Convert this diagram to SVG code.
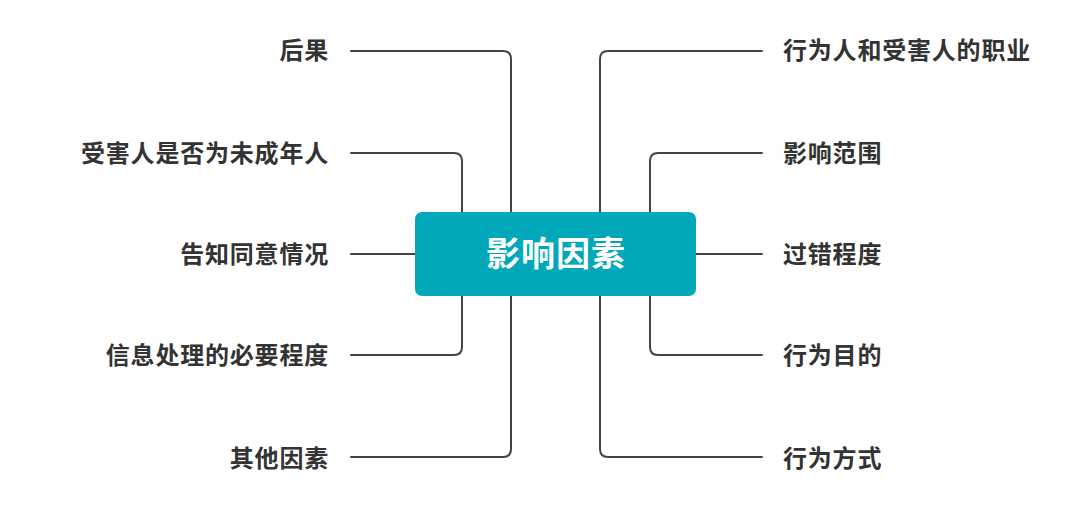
<svg xmlns="http://www.w3.org/2000/svg" width="1080" height="508" viewBox="0 0 1080 508">
<style>
.c{fill:none;stroke:#444;stroke-width:2;stroke-linecap:round}
.l{font-family:"Liberation Sans","Noto Sans CJK SC",sans-serif;font-size:24px;font-weight:bold;fill:#333;dominant-baseline:central;letter-spacing:0.8px}
.m{font-family:"Liberation Sans","Noto Sans CJK SC",sans-serif;font-size:34px;font-weight:bold;fill:#fff;dominant-baseline:central;text-anchor:middle;letter-spacing:1px}
</style>
<rect width="1080" height="508" fill="#fff"/>
<g id="connectors">
<path class="c" d="M351,51 H503 Q511,51 511,59 V449 Q511,457 503,457 H351"/>
<path class="c" d="M351,153 H454 Q462,153 462,161 V347 Q462,355 454,355 H351"/>
<path class="c" d="M351,254 H420"/>
<path class="c" d="M762,51 H608 Q600,51 600,59 V449 Q600,457 608,457 H762"/>
<path class="c" d="M762,153 H658 Q650,153 650,161 V347 Q650,355 658,355 H762"/>
<path class="c" d="M690,254 H762"/>
</g>
<g id="center"><rect x="415" y="212" width="281" height="84" rx="7" fill="#00A8B9"/><text class="m" x="556" y="254">影响因素</text></g>
<g id="n1"><text class="l" x="329" y="50" text-anchor="end">后果</text></g>
<g id="n2"><text class="l" x="329" y="153" text-anchor="end">受害人是否为未成年人</text></g>
<g id="n3"><text class="l" x="329" y="254" text-anchor="end">告知同意情况</text></g>
<g id="n4"><text class="l" x="329" y="355" text-anchor="end">信息处理的必要程度</text></g>
<g id="n5"><text class="l" x="329" y="458" text-anchor="end">其他因素</text></g>
<g id="n6"><text class="l" x="783" y="50">行为人和受害人的职业</text></g>
<g id="n7"><text class="l" x="783" y="153">影响范围</text></g>
<g id="n8"><text class="l" x="783" y="254">过错程度</text></g>
<g id="n9"><text class="l" x="783" y="355">行为目的</text></g>
<g id="n10"><text class="l" x="783" y="458">行为方式</text></g>
</svg>
